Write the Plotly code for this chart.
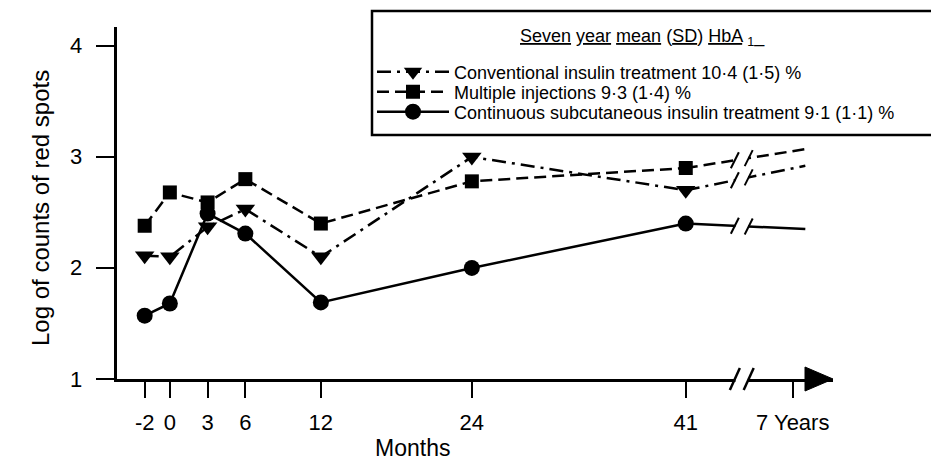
import numpy as np
import plotly.graph_objects as go

# ---- data ----
months = [-2, 0, 3, 6, 12, 24, 41]
tick_vals = [-2, 0, 3, 6, 12, 24, 41, 49.5]
tick_text = ["-2", "0", "3", "6", "12", "24", "41", "7 Years"]
y_tick_vals = [1, 2, 3, 4]
y_tick_text = ["1", "2", "3", "4"]
seven_year_x = 50.5

conventional = [2.11, 2.10, 2.37, 2.53, 2.10, 3.00, 2.70]
conventional_7y = 2.92
multiple = [2.38, 2.68, 2.59, 2.80, 2.40, 2.78, 2.90]
multiple_7y = 3.07
csii = [1.57, 1.68, 2.49, 2.31, 1.69, 2.00, 2.40]
csii_7y = 2.35

names = [
    "Conventional insulin treatment 10·4 (1·5) %",
    "Multiple injections 9·3 (1·4) %",
    "Continuous subcutaneous insulin treatment 9·1 (1·1) %",
]
legend_title = "<u>Seven</u> <u>year</u> <u>mean</u> (<u>SD</u>) <u>HbA</u> <sub>1</sub>_"

FONT = "Liberation Sans, Arial, Helvetica, sans-serif"
W, H = 931, 461
ML, MR, MT, MB = 117, 98, 27, 82
PW, PH = W - ML - MR, H - MT - MB


def px_x(p):
    return (p - ML) / PW


def px_y(p):
    return (H - MB - p) / PH


series = [
    (conventional, conventional_7y, names[0], "triangle-down", 17, "14px,6px,3px,6px", "legend"),
    (multiple, multiple_7y, names[1], "square", 14, "12px,6px", "legend2"),
    (csii, csii_7y, names[2], "circle", 16, "solid", "legend3"),
]

fig = go.Figure()
for vals, end, name, sym, msize, dash, lg in series:
    fig.add_trace(go.Scatter(
        x=months, y=vals, mode="lines+markers", name=name, legend=lg,
        line=dict(color="black", width=2.5, dash=dash),
        marker=dict(symbol=sym, size=msize, color="black"),
    ))
    fig.add_trace(go.Scatter(
        x=[months[-1], seven_year_x], y=[vals[-1], end], mode="lines",
        showlegend=False, hoverinfo="skip",
        line=dict(color="black", width=2.5, dash=dash),
    ))

# ---- axis break decoration ----
brk_l, brk_r = 44.9, 46.0
shapes = [
    dict(type="rect", xref="x", yref="paper", x0=brk_l + 0.05, x1=brk_r - 0.05,
         y0=-0.05, y1=0.68, fillcolor="white", line=dict(width=0), layer="above"),
]
for bx in (brk_l, brk_r):
    shapes.append(dict(type="path", xref="x", yref="paper", xsizemode="pixel",
                       ysizemode="pixel", xanchor=bx, yanchor=0,
                       path="M -5,-11 L 5,11", line=dict(color="black", width=2.5),
                       layer="above"))
    for vals, end, *_ in series:
        yb = float(np.interp(bx, [months[-1], seven_year_x], [vals[-1], end]))
        shapes.append(dict(type="path", xref="x", yref="y", xsizemode="pixel",
                           ysizemode="pixel", xanchor=bx, yanchor=yb,
                           path="M -4,-8 L 4,8", line=dict(color="black", width=2),
                           layer="above"))
# arrow head at end of x axis
shapes.append(dict(type="path", xref="paper", yref="paper", xsizemode="pixel",
                   ysizemode="pixel", xanchor=1, yanchor=0,
                   path="M 0,0 L -28,12 L -28,-12 Z", fillcolor="black",
                   line=dict(color="black", width=1), layer="above"))
# legend box
shapes.append(dict(type="rect", xref="paper", yref="paper",
                   x0=px_x(372), x1=px_x(945), y0=px_y(135), y1=px_y(11),
                   line=dict(color="black", width=2.5), fillcolor="white", layer="below"))

legend_common = dict(
    xanchor="left", yanchor="middle", borderwidth=0, bgcolor="rgba(0,0,0,0)",
    font=dict(size=18, family=FONT, color="black"), itemwidth=72,
)
item_y = [72, 92, 112]

annotations = [
    dict(text=legend_title, xref="paper", yref="paper", x=px_x(642), y=px_y(37),
         showarrow=False, xanchor="center", yanchor="middle",
         font=dict(size=18, family=FONT)),
    dict(text="Months", xref="paper", yref="paper", x=px_x(412),
         y=px_y(448), showarrow=False, xanchor="center", yanchor="middle",
         font=dict(size=23, family=FONT)),
    dict(text="Log of counts of red spots", xref="paper", yref="paper",
         x=px_x(40), y=px_y(208), textangle=-90, showarrow=False,
         xanchor="center", yanchor="middle", font=dict(size=24, family=FONT)),
]
# y tick labels placed at the tick values
for v, t in zip(y_tick_vals, y_tick_text):
    annotations.append(dict(text=t, xref="paper", yref="y", x=px_x(84), y=v,
                            showarrow=False, xanchor="right", yanchor="middle",
                            font=dict(size=22, family=FONT)))

fig.update_layout(
    width=W, height=H,
    margin=dict(l=ML, r=MR, t=MT, b=MB),
    paper_bgcolor="white", plot_bgcolor="rgba(0,0,0,0)",
    font=dict(family=FONT, color="black", size=22),
    showlegend=True,
    legend=dict(x=px_x(372), y=px_y(item_y[0]), **legend_common),
    legend2=dict(x=px_x(372), y=px_y(item_y[1]), **legend_common),
    legend3=dict(x=px_x(372), y=px_y(item_y[2]), **legend_common),
    xaxis=dict(
        range=[-4.2, 52.7], showgrid=False, zeroline=False,
        showline=True, linecolor="black", linewidth=3,
        ticks="outside", ticklen=16, tickwidth=2, tickcolor="black",
        tickvals=tick_vals, ticktext=tick_text, ticklabelstandoff=6,
        tickfont=dict(size=22, family=FONT),
    ),
    yaxis=dict(
        range=[1, 4.17], showgrid=False, zeroline=False,
        showline=True, linecolor="black", linewidth=3,
        ticks="outside", ticklen=18, tickwidth=2, tickcolor="black",
        tickvals=y_tick_vals, showticklabels=False,
    ),
    shapes=shapes,
    annotations=annotations,
)

fig.write_html("out.html", config={"displayModeBar": False},
               post_script="document.body.style.margin='0';")
